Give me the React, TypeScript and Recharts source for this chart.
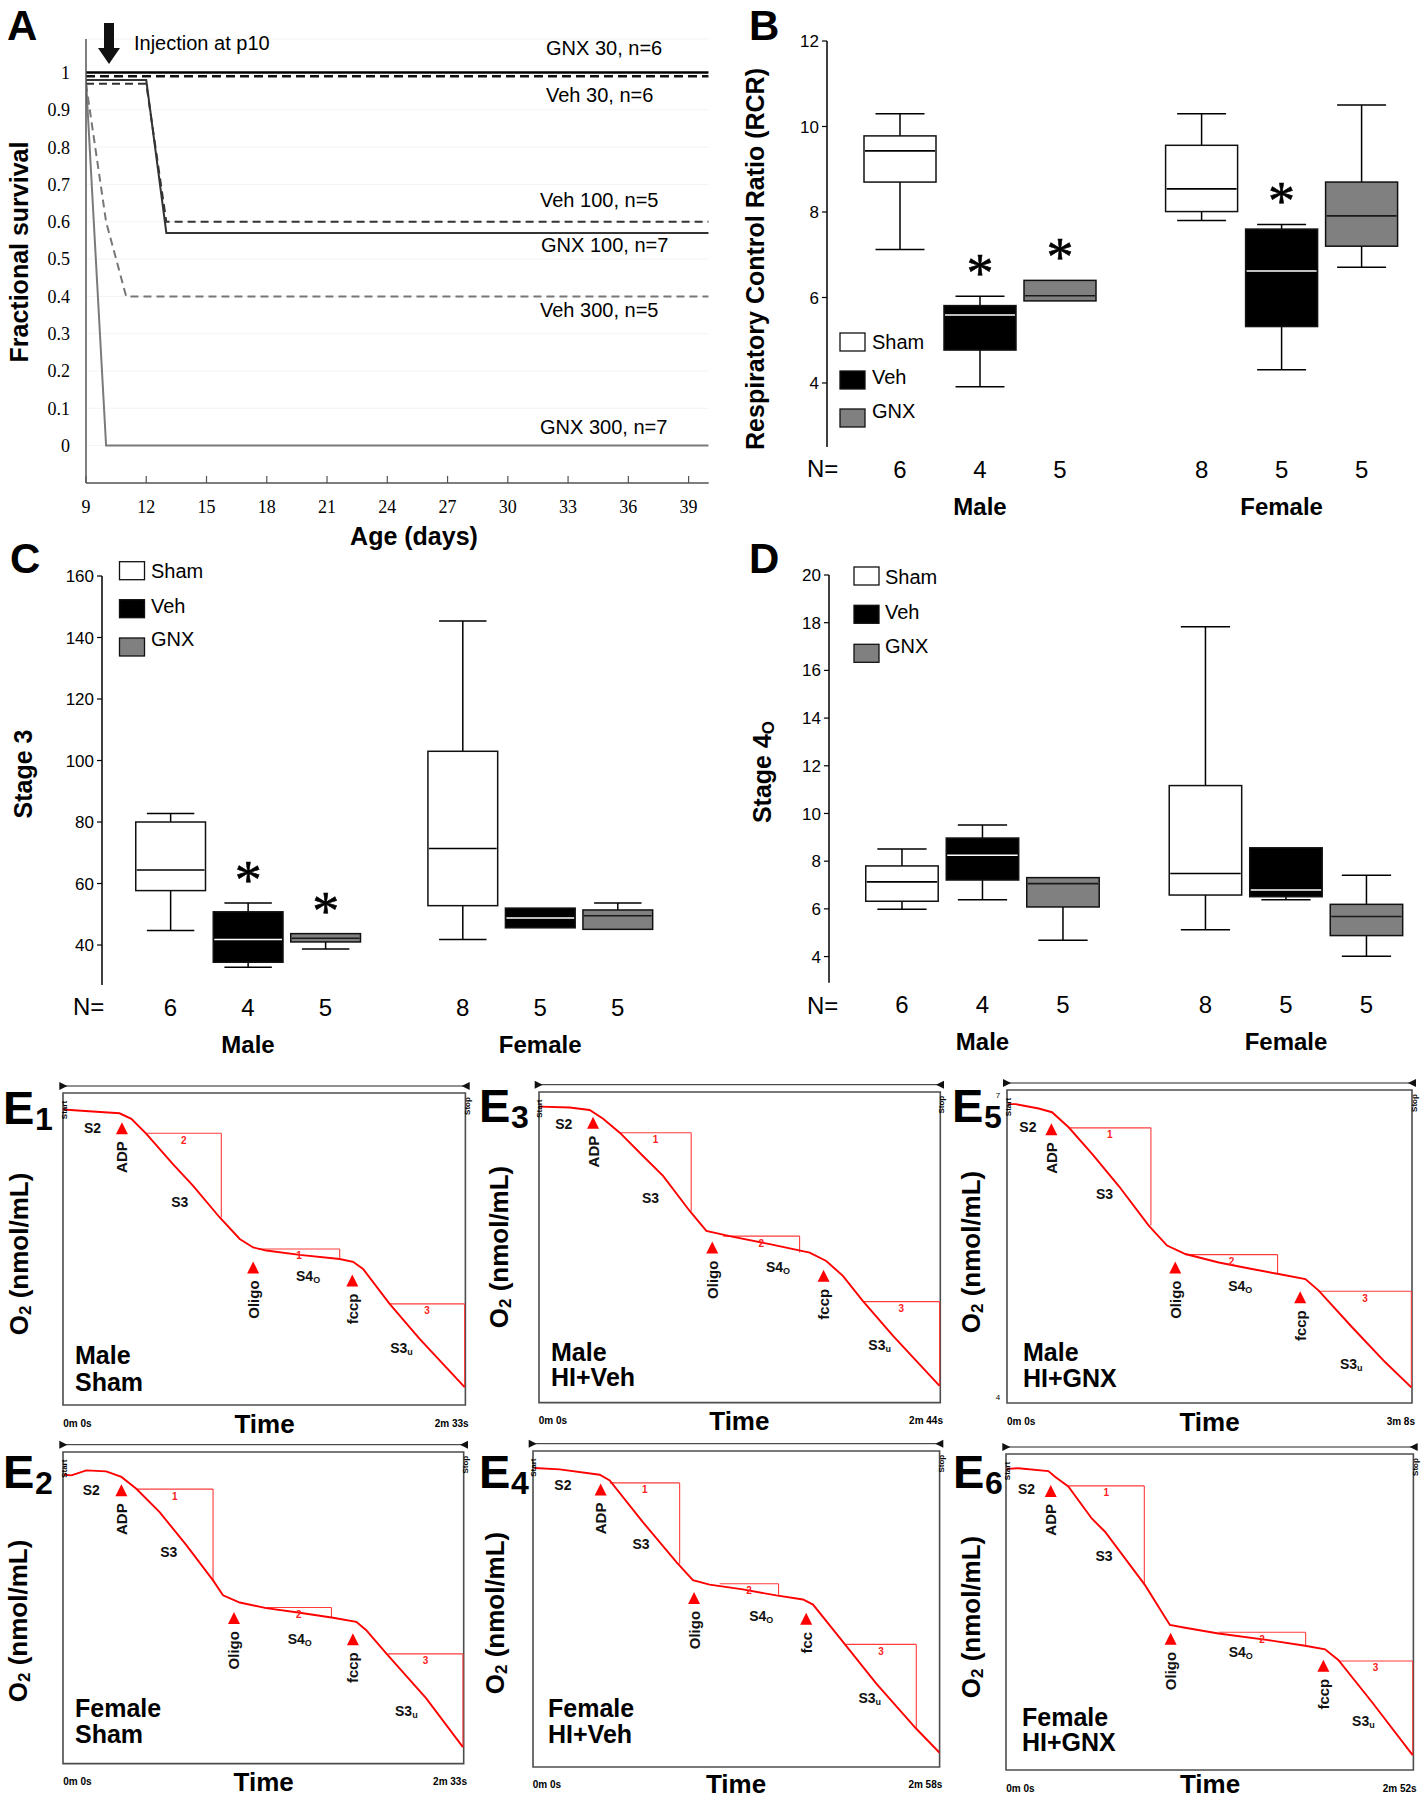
import React from "react";
import {
  LineChart,
  Line,
  XAxis,
  YAxis,
  CartesianGrid,
  BarChart,
  Bar,
  ReferenceDot,
  ReferenceLine,
  ReferenceArea,
} from "recharts";

const SANS = "'Liberation Sans', Arial, Helvetica, sans-serif";
const SERIF = "'Liberation Serif', 'Times New Roman', Times, serif";

// ---------- A: fractional survival ----------
const ageTicks = [9, 12, 15, 18, 21, 24, 27, 30, 33, 36, 39];
const survTicks = [0, 0.1, 0.2, 0.3, 0.4, 0.5, 0.6, 0.7, 0.8, 0.9, 1];

const gnx30Days = [9, 40];
const gnx30Surv = [1, 1];
const veh30Days = [9, 40];
const veh30Surv = [0.99, 0.99];
const veh100Days = [9, 12, 13, 40];
const veh100Surv = [0.97, 0.97, 0.6, 0.6];
const gnx100Days = [9, 12, 13, 40];
const gnx100Surv = [0.98, 0.98, 0.57, 0.57];
const veh300Days = [9, 10, 11, 40];
const veh300Surv = [0.97, 0.6, 0.4, 0.4];
const gnx300Days = [9, 10, 40];
const gnx300Surv = [0.98, 0, 0];

const survNames = ["GNX 30, n=6", "Veh 30, n=6", "Veh 100, n=5", "GNX 100, n=7", "Veh 300, n=5", "GNX 300, n=7"];

// ---------- B-D: box plots ----------
const groups = ["Male", "Male", "Male", "Female", "Female", "Female"];
const treatments = ["Sham", "Veh", "GNX", "Sham", "Veh", "GNX"];
const nCounts = [6, 4, 5, 8, 5, 5];

const rcrTicks = [4, 6, 8, 10, 12];
const rcrMin = [7.12, 3.91, 5.92, 7.8, 4.31, 6.71];
const rcrQ1 = [8.7, 4.77, 5.92, 8.01, 5.32, 7.2];
const rcrMed = [9.43, 5.59, 6.04, 8.54, 6.62, 7.91];
const rcrQ3 = [9.78, 5.81, 6.4, 9.56, 7.6, 8.7];
const rcrMax = [10.3, 6.03, 6.4, 10.3, 7.71, 10.5];
const rcrSig = [false, true, true, false, true, false];

const st3Ticks = [40, 60, 80, 100, 120, 140, 160];
const st3Min = [44.7, 32.8, 38.7, 41.8, 45.6, 45.1];
const st3Q1 = [57.7, 34.4, 41.0, 52.8, 45.6, 45.1];
const st3Med = [64.4, 41.8, 42.2, 71.4, 48.8, 49.5];
const st3Q3 = [80.0, 50.8, 43.7, 103.0, 52.0, 51.4];
const st3Max = [82.8, 53.7, 43.7, 145.4, 52.0, 53.7];
const st3Sig = [false, true, true, false, false, false];

const st4Ticks = [4, 6, 8, 10, 12, 14, 16, 18, 20];
const st4Min = [5.98, 6.38, 4.68, 5.12, 6.38, 4.01];
const st4Q1 = [6.32, 7.21, 6.08, 6.58, 6.51, 4.88];
const st4Med = [7.13, 8.25, 7.06, 7.48, 6.79, 5.68];
const st4Q3 = [7.8, 8.97, 7.31, 11.17, 8.56, 6.19];
const st4Max = [8.51, 9.52, 7.31, 17.83, 8.56, 7.41];
const st4Sig = [false, false, false, false, false, false];

// ---------- E: oxygen traces (time s, O2 as % of trace window) ----------
const e1Time = [0, 12.7, 21.5, 26.0, 31.7, 41.8, 49.4, 59.6, 67.2, 72.3, 77.3, 90.0, 105.2, 110.3, 114.1, 124.2, 135.6, 152.7];
const e1O2 = [94.7, 94.0, 93.5, 91.7, 86.9, 77.2, 70.3, 60.1, 53.2, 50.5, 49.5, 48.1, 46.8, 45.9, 43.6, 32.4, 21.2, 5.7];
const e1Boxes: any[] = [[31.7, 60.2, 87.1, 60.1, "2"], [74.2, 105.2, 50.0, 46.8, "1"], [124.2, 152.7, 32.4, 5.7, "3"]];
const e1Marks: any[] = [[22.4, 88.7, "ADP"], [72.3, 44.1, "Oligo"], [110.0, 39.9, "fccp"]];
const e1Stages: any[] = [[11.2, 88.7, "S2"], [44.4, 65.2, "S3"], [93.2, 41.5, "S4_O"], [128.7, 18.2, "S3_u"]];
const e1Group = ["Male", "Sham"];

const e3Time = [0.3, 12.5, 20.7, 26.2, 33.0, 42.5, 50.7, 61.6, 68.4, 77.9, 94.3, 110.6, 117.4, 124.2, 132.4, 144.7, 163.7];
const e3O2 = [95.3, 95.0, 94.2, 91.4, 86.9, 79.4, 73.0, 61.7, 55.3, 53.6, 51.0, 48.3, 45.6, 40.8, 32.7, 21.5, 5.4];
const e3Boxes: any[] = [[33.0, 62.2, 86.9, 61.7, "1"], [75.2, 106.5, 53.6, 48.3, "2"], [132.4, 163.7, 32.5, 5.4, "3"]];
const e3Marks: any[] = [[22.1, 90.1, "ADP"], [70.8, 49.9, "Oligo"], [116.3, 40.8, "fccp"]];
const e3Stages: any[] = [[10.1, 89.8, "S2"], [45.6, 66.0, "S3"], [97.7, 43.5, "S4_O"], [139.2, 18.5, "S3_u"]];
const e3Group = ["Male", "HI+Veh"];

const e5Time = [0.5, 3.9, 14.7, 20.9, 28.6, 39.5, 51.8, 65.8, 74.3, 82.8, 98.3, 113.7, 126.1, 138.5, 144.7, 160.2, 175.6, 187.7];
const e5O2 = [95.5, 95.5, 94.1, 92.9, 88.1, 79.6, 69.4, 56.7, 50.3, 47.6, 44.9, 42.8, 41.2, 39.6, 35.9, 24.2, 13.0, 5.0];
const e5Boxes: any[] = [[28.6, 66.8, 87.9, 56.7, "1"], [82.8, 125.6, 47.4, 41.5, "2"], [144.7, 187.7, 35.7, 5.0, "3"]];
const e5Marks: any[] = [[20.6, 87.5, "ADP"], [78.1, 43.3, "Oligo"], [136.1, 33.8, "fccp"]];
const e5Stages: any[] = [[9.7, 88.1, "S2"], [45.3, 66.8, "S3"], [108.3, 37.3, "S4_O"], [159.8, 12.5, "S3_u"]];
const e5Group = ["Male", "HI+GNX"];

const e2Time = [0.3, 3.2, 8.9, 16.5, 22.3, 28.0, 36.9, 47.1, 57.3, 61.1, 67.5, 77.6, 90.4, 103.1, 112.0, 115.8, 123.5, 138.7, 152.7];
const e2O2 = [92.7, 92.5, 94.1, 93.8, 92.0, 88.2, 80.7, 70.1, 58.8, 54.0, 51.7, 49.9, 48.4, 46.8, 45.5, 42.8, 35.3, 20.9, 5.3];
const e2Boxes: any[] = [[28.0, 57.3, 88.1, 58.8, "1"], [77.6, 102.5, 50.1, 46.8, "2"], [124.1, 152.7, 35.2, 5.3, "3"]];
const e2Marks: any[] = [[22.3, 87.7, "ADP"], [65.3, 46.7, "Oligo"], [110.7, 39.9, "fccp"]];
const e2Stages: any[] = [[10.8, 87.9, "S2"], [40.4, 67.9, "S3"], [90.4, 40.1, "S4_O"], [131.1, 16.8, "S3_u"]];
const e2Group = ["Female", "Sham"];

const e4Time = [0.7, 11.7, 29.2, 33.6, 48.1, 62.7, 70.0, 77.3, 91.9, 106.5, 118.2, 122.6, 135.7, 150.3, 167.8, 178.0];
const e4O2 = [94.6, 94.2, 92.5, 90.7, 77.5, 64.9, 59.1, 57.7, 56.2, 54.3, 53.0, 51.4, 39.6, 26.4, 12.1, 4.5];
const e4Boxes: any[] = [[33.6, 64.2, 89.9, 64.3, "1"], [81.7, 107.5, 58.0, 54.5, "2"], [136.9, 167.8, 38.8, 12.1, "3"]];
const e4Marks: any[] = [[29.6, 87.8, "ADP"], [70.5, 53.5, "Oligo"], [119.6, 46.9, "fcc"]];
const e4Stages: any[] = [[13.1, 89.1, "S2"], [47.3, 70.5, "S3"], [99.9, 47.7, "S4_O"], [147.4, 21.8, "S3_u"]];
const e4Group = ["Female", "HI+Veh"];

const e6Time = [0.3, 5.2, 17.9, 20.7, 26.3, 36.2, 41.8, 58.7, 65.7, 69.2, 75.6, 89.7, 110.8, 126.3, 134.7, 140.3, 154.4, 171.7];
const e6O2 = [95.3, 95.5, 94.6, 92.8, 89.7, 79.6, 75.4, 58.5, 50.1, 45.9, 45.0, 43.2, 41.1, 39.3, 38.2, 34.8, 21.6, 4.7];
const e6Boxes: any[] = [[26.3, 58.4, 89.9, 58.5, "1"], [89.7, 126.5, 43.6, 39.3, "2"], [140.3, 171.7, 34.5, 4.7, "3"]];
const e6Marks: any[] = [[18.9, 88.3, "ADP"], [69.5, 41.5, "Oligo"], [134.0, 33.0, "fccp"]];
const e6Stages: any[] = [[8.7, 88.9, "S2"], [41.4, 67.7, "S3"], [99.1, 37.4, "S4_O"], [150.9, 15.5, "S3_u"]];
const e6Group = ["Female", "HI+GNX"];

// ---------- layout helpers ----------
// wrapper so that the plot area lands on L..R / T..B of the page
function place(L: number, T: number, R: number, B: number, yW = 0, xH = 0, pad = 6) {
  const left = L - yW - pad;
  const top = T - pad;
  return {
    style: { position: "absolute" as const, left, top },
    width: R + pad - left,
    height: B + xH + pad - top,
    margin: { top: pad, right: pad, bottom: pad, left: pad },
  };
}

const toPts = (d: number[], s: number[]) => d.map((day, i) => ({ day, s: s[i] }));

const survLines = [
  { key: "gnx30", data: toPts(gnx30Days, gnx30Surv), stroke: "#000", w: 2.6, dash: undefined },
  { key: "veh30", data: toPts(veh30Days, veh30Surv), stroke: "#111", w: 2.4, dash: "9 5" },
  { key: "veh300", data: toPts(veh300Days, veh300Surv), stroke: "#777", w: 2, dash: "8 5" },
  { key: "gnx300", data: toPts(gnx300Days, gnx300Surv), stroke: "#7a7a7a", w: 2, dash: undefined },
  { key: "veh100", data: toPts(veh100Days, veh100Surv), stroke: "#333", w: 2, dash: "8 5" },
  { key: "gnx100", data: toPts(gnx100Days, gnx100Surv), stroke: "#333", w: 2, dash: undefined },
];

function AgeTick(p: any) {
  return (
    <g>
      <line x1={p.x} x2={p.x} y1={p.y} y2={p.y - 7} stroke="#555" strokeWidth={1.2} />
      <text x={p.x} y={p.y + 24} textAnchor="middle" dominantBaseline="central" fontSize={18} fontFamily={SERIF} fill="#000">
        {p.payload.value}
      </text>
    </g>
  );
}

function SurvivalChart() {
  const g = place(86, 38.7, 708.7, 482.6, 70, 40, 12);
  return (
    <div style={g.style}>
      <LineChart width={g.width} height={g.height} margin={g.margin}>
        <CartesianGrid vertical={false} stroke="#f3f3f3" />
        <XAxis
          type="number"
          dataKey="day"
          domain={[9, 40]}
          allowDataOverflow
          ticks={ageTicks}
          interval={0}
          axisLine={{ stroke: "#555", strokeWidth: 1.5 }}
          tickLine={false}
          tickSize={0}
          tickMargin={0}
          height={40}
          tick={(p: any) => <AgeTick {...p} />}
        />
        <YAxis
          type="number"
          domain={[-0.1, 1.09]}
          allowDataOverflow
          ticks={survTicks}
          interval={0}
          width={70}
          axisLine={{ stroke: "#555", strokeWidth: 1.5 }}
          tickLine={false}
          tickSize={0}
          tickMargin={16}
          tick={{ fill: "#000", fontSize: 18, fontFamily: SERIF }}
          tickFormatter={(v: number) => (v === 0 || v === 1 ? String(v) : v.toFixed(1))}
        />
        {survLines.map((l) => (
          <Line
            key={l.key}
            data={l.data}
            dataKey="s"
            type="linear"
            stroke={l.stroke}
            strokeWidth={l.w}
            strokeDasharray={l.dash}
            dot={false}
            isAnimationActive={false}
          />
        ))}
      </LineChart>
    </div>
  );
}

const BOX_STYLE: any = {
  Sham: { fill: "#ffffff", med: "#000" },
  Veh: { fill: "#000000", med: "#fff" },
  GNX: { fill: "#808080", med: "#1a1a1a" },
};

const GAP = 0.77;
const boxPos = treatments.map((_, i) => i + (i >= 3 ? GAP : 0));

function BoxShape(props: any) {
  const { x, y, width, height, payload } = props;
  if (!payload || width == null) return null;
  const top = Math.min(y, y + height);
  const h = Math.abs(height);
  const { lo, q1, med, q3, hi, treatment, sig } = payload;
  const py = (v: number) => top + (h * (hi - v)) / (hi - lo || 1);
  const cx = x + width / 2;
  const cap = width * 0.34;
  const st = BOX_STYLE[treatment];
  return (
    <g>
      <line x1={cx} x2={cx} y1={py(hi)} y2={py(lo)} stroke="#000" strokeWidth={1.5} />
      {hi > q3 && <line x1={cx - cap} x2={cx + cap} y1={py(hi)} y2={py(hi)} stroke="#000" strokeWidth={1.5} />}
      {lo < q1 && <line x1={cx - cap} x2={cx + cap} y1={py(lo)} y2={py(lo)} stroke="#000" strokeWidth={1.5} />}
      <rect x={x} y={py(q3)} width={width} height={py(q1) - py(q3)} fill={st.fill} stroke="#111" strokeWidth={1.5} />
      <line x1={x + 1} x2={x + width - 1} y1={py(med)} y2={py(med)} stroke={st.med} strokeWidth={1.6} />
      {sig && (
        <text x={cx} y={py(hi) - 5} textAnchor="middle" fontSize={54} fontFamily={SERIF} fill="#000" stroke="#000" strokeWidth={0.6}>
          *
        </text>
      )}
    </g>
  );
}

function NTick(p: any) {
  const i = boxPos.indexOf(p.payload.value);
  return (
    <g fontFamily={SANS} fill="#000">
      <text x={p.x} y={p.y + 22} textAnchor="middle" dominantBaseline="central" fontSize={24}>
        {nCounts[i]}
      </text>
      {(i === 1 || i === 4) && (
        <text x={p.x} y={p.y + 59} textAnchor="middle" dominantBaseline="central" fontSize={24} fontWeight="bold">
          {groups[i]}
        </text>
      )}
    </g>
  );
}

function BoxChart(props: any) {
  const { L, T, R, B, c0, sp, yDomain, yTicks, mins, q1s, meds, q3s, maxs, sig } = props;
  const g = place(L, T, R, B, 60, 80, 16);
  const rows = treatments.map((t, i) => ({
    pos: boxPos[i],
    range: [mins[i], maxs[i]],
    lo: mins[i],
    q1: q1s[i],
    med: meds[i],
    q3: q3s[i],
    hi: maxs[i],
    treatment: t,
    sig: sig[i],
  }));
  const xDomain = [-(c0 - L) / sp, (R - c0) / sp];
  return (
    <div style={g.style}>
      <BarChart width={g.width} height={g.height} margin={g.margin} data={rows}>
        <XAxis
          type="number"
          dataKey="pos"
          domain={xDomain}
          allowDataOverflow
          ticks={boxPos}
          interval={0}
          axisLine={false}
          tickLine={false}
          tickSize={0}
          tickMargin={0}
          height={80}
          tick={(p: any) => <NTick {...p} />}
        />
        <YAxis
          type="number"
          domain={yDomain}
          allowDataOverflow
          ticks={yTicks}
          interval={0}
          width={60}
          axisLine={{ stroke: "#000", strokeWidth: 1.5 }}
          tickLine={{ stroke: "#000", strokeWidth: 1.2 }}
          tickSize={5}
          tickMargin={3}
          tick={{ fill: "#000", fontSize: 17, fontFamily: SANS }}
        />
        <Bar dataKey="range" barSize={sp} isAnimationActive={false} shape={(p: any) => <BoxShape {...p} />} />
      </BarChart>
    </div>
  );
}

function StageLabel({ cx, cy, label }: any) {
  const [main, sub] = String(label).split("_");
  return (
    <text x={cx} y={cy} textAnchor="middle" dominantBaseline="central" fontSize={14} fontWeight="bold" fontFamily={SANS} fill="#111">
      {main}
      {sub && (
        <tspan fontSize={9} dy={4}>
          {sub}
        </tspan>
      )}
    </text>
  );
}

function EPanel(props: any) {
  const { lay, dur, time, o2, boxes, marks, stages } = props;
  const { L, T, R, B } = lay;
  const g = place(L, T, R, B);
  const data = time.map((t: number, i: number) => ({ t, v: o2[i] }));
  return (
    <div style={g.style}>
      <LineChart width={g.width} height={g.height} margin={g.margin} data={data}>
        <XAxis type="number" dataKey="t" domain={[0, dur]} hide allowDataOverflow />
        <YAxis type="number" dataKey="v" domain={[0, 100]} hide allowDataOverflow />
        <ReferenceArea x1={0} x2={dur} y1={0} y2={100} fill="none" fillOpacity={0} stroke="#4d4d4d" strokeWidth={1.6} ifOverflow="visible" />
        {boxes.flatMap((b: any, i: number) => [
          <ReferenceLine key={`h${i}`} segment={[{ x: b[0], y: b[2] }, { x: b[1], y: b[2] }]} stroke="#ff3b3b" strokeWidth={1.1} ifOverflow="visible" />,
          <ReferenceLine key={`v${i}`} segment={[{ x: b[1], y: b[2] }, { x: b[1], y: b[3] }]} stroke="#ff3b3b" strokeWidth={1.1} ifOverflow="visible" />,
        ])}
        <Line type="linear" dataKey="v" stroke="#ff0000" strokeWidth={1.9} dot={false} isAnimationActive={false} />
        {boxes.map((b: any, i: number) => (
          <ReferenceDot
            key={`n${i}`}
            x={(b[0] + b[1]) / 2}
            y={b[2]}
            r={0}
            ifOverflow="visible"
            shape={(p: any) => (
              <text x={p.cx} y={p.cy + 7} textAnchor="middle" dominantBaseline="central" fontSize={10} fontWeight="bold" fill="#ff2020" fontFamily={SANS}>
                {b[4]}
              </text>
            )}
          />
        ))}
        {marks.map((m: any, i: number) => (
          <ReferenceDot
            key={`m${i}`}
            x={m[0]}
            y={m[1]}
            r={0}
            ifOverflow="visible"
            shape={(p: any) => (
              <g>
                <path d={`M${p.cx},${p.cy - 6} L${p.cx + 6},${p.cy + 6} L${p.cx - 6},${p.cy + 6} Z`} fill="#ff0000" />
                <text
                  transform={`rotate(-90 ${p.cx} ${p.cy + 13})`}
                  x={p.cx}
                  y={p.cy + 13}
                  textAnchor="end"
                  dominantBaseline="central"
                  fontSize={15}
                  fontWeight="bold"
                  fontFamily={SANS}
                  fill="#111"
                >
                  {m[2]}
                </text>
              </g>
            )}
          />
        ))}
        {stages.map((s: any, i: number) => (
          <ReferenceDot key={`s${i}`} x={s[0]} y={s[1]} r={0} ifOverflow="visible" shape={(p: any) => <StageLabel cx={p.cx} cy={p.cy} label={s[2]} />} />
        ))}
      </LineChart>
    </div>
  );
}

const E_PANELS = [
  { sub: "1", lay: { L: 63.3, R: 465.7, T: 1093, B: 1405, eX: 3, eBase: 1124, gX: 75, gY: [1355, 1381.7], o2X: 19, o2Y: 1254 }, dur: 153, end: "2m 33s", time: e1Time, o2: e1O2, boxes: e1Boxes, marks: e1Marks, stages: e1Stages, group: e1Group },
  { sub: "3", lay: { L: 538.7, R: 940, T: 1091.7, B: 1402.3, eX: 479, eBase: 1122, gX: 551, gY: [1351.7, 1377.3], o2X: 499, o2Y: 1247 }, dur: 164, end: "2m 44s", time: e3Time, o2: e3O2, boxes: e3Boxes, marks: e3Marks, stages: e3Stages, group: e3Group },
  { sub: "5", lay: { L: 1007, R: 1412, T: 1090, B: 1403, eX: 952, eBase: 1122, gX: 1023, gY: [1352.3, 1378], o2X: 971, o2Y: 1252 }, dur: 188, end: "3m 8s", time: e5Time, o2: e5O2, boxes: e5Boxes, marks: e5Marks, stages: e5Stages, group: e5Group },
  { sub: "2", lay: { L: 63.3, R: 464, T: 1451.7, B: 1763.3, eX: 3, eBase: 1488, gX: 75, gY: [1708.3, 1734.3], o2X: 17.5, o2Y: 1621 }, dur: 153, end: "2m 33s", time: e2Time, o2: e2O2, boxes: e2Boxes, marks: e2Marks, stages: e2Stages, group: e2Group },
  { sub: "4", lay: { L: 532.7, R: 939.3, T: 1450.7, B: 1766.7, eX: 479, eBase: 1488, gX: 548, gY: [1708.3, 1734.3], o2X: 495, o2Y: 1613 }, dur: 178, end: "2m 58s", time: e4Time, o2: e4O2, boxes: e4Boxes, marks: e4Marks, stages: e4Stages, group: e4Group },
  { sub: "6", lay: { L: 1006.3, R: 1413.7, T: 1454, B: 1770, eX: 953, eBase: 1488, gX: 1022, gY: [1716.7, 1741.7], o2X: 971, o2Y: 1617 }, dur: 172, end: "2m 52s", time: e6Time, o2: e6O2, boxes: e6Boxes, marks: e6Marks, stages: e6Stages, group: e6Group },
];

function EOverlay({ p }: any) {
  const { L, R, T, B, eX, eBase, gX, gY, o2X, o2Y } = p.lay;
  const timeY = Math.min(B + 19, 1784);
  return (
    <g fontFamily={SANS} fill="#000">
      <text x={eX} y={eBase} fontSize={47} fontWeight="bold">E</text>
      <text x={eX + 32} y={eBase + 6} fontSize={32} fontWeight="bold">{p.sub}</text>
      <line x1={L} x2={R} y1={T - 7} y2={T - 7} stroke="#222" strokeWidth={1} />
      <path d={`M${L - 4},${T - 11} L${L + 4},${T - 7} L${L - 4},${T - 3} Z`} fill="#111" />
      <path d={`M${R + 4},${T - 11} L${R - 4},${T - 7} L${R + 4},${T - 3} Z`} fill="#111" />
      <text transform={`rotate(-90 ${L + 1} ${T + 17})`} x={L + 1} y={T + 17} textAnchor="middle" dominantBaseline="central" fontSize={8} fontWeight="bold">Start</text>
      <text transform={`rotate(-90 ${R + 2} ${T + 13})`} x={R + 2} y={T + 13} textAnchor="middle" dominantBaseline="central" fontSize={8} fontWeight="bold">Stop</text>
      <text transform={`rotate(-90 ${o2X} ${o2Y})`} x={o2X} y={o2Y} textAnchor="middle" dominantBaseline="central" fontSize={26} fontWeight="bold">
        O<tspan fontSize={17} dy={6}>2</tspan>
        <tspan dy={-6}> (nmol/mL)</tspan>
      </text>
      <text x={(L + R) / 2} y={timeY} textAnchor="middle" dominantBaseline="central" fontSize={26} fontWeight="bold">Time</text>
      <text x={L} y={B + 18} dominantBaseline="central" fontSize={10} fontWeight="bold">0m 0s</text>
      <text x={R + 3} y={B + 18} textAnchor="end" dominantBaseline="central" fontSize={10} fontWeight="bold">{p.end}</text>
      {p.group.map((s: string, i: number) => (
        <text key={s} x={gX} y={gY[i]} dominantBaseline="central" fontSize={25} fontWeight="bold">{s}</text>
      ))}
    </g>
  );
}

function LegendBlock({ x, tops, textX, textYs }: any) {
  return (
    <g fontFamily={SANS}>
      {treatments.slice(0, 3).map((t, i) => (
        <g key={t}>
          <rect x={x} y={tops[i]} width={25} height={18} fill={BOX_STYLE[t].fill} stroke="#111" strokeWidth={1.3} />
          <text x={textX} y={textYs[i]} fontSize={20} dominantBaseline="central" fill="#000">{t}</text>
        </g>
      ))}
    </g>
  );
}

function Overlay() {
  const survLabelY = [47.5, 95, 199.6, 245.4, 310, 427];
  const survLabelX = [546, 546, 540, 541, 540, 540];
  return (
    <svg width={1423} height={1800} style={{ position: "absolute", left: 0, top: 0, pointerEvents: "none" }}>
      <g fontFamily={SANS} fill="#000" fontWeight="bold" fontSize={42}>
        <text x={7} y={40}>A</text>
        <text x={749} y={40}>B</text>
        <text x={10} y={573}>C</text>
        <text x={749} y={573}>D</text>
      </g>

      {/* A */}
      <path d="M104,23 L114,23 L114,48 L120,48 L109,64 L98,48 L104,48 Z" fill="#111" />
      <text x={134} y={42.5} fontFamily={SANS} fontSize={20} dominantBaseline="central">Injection at p10</text>
      {survNames.map((s, i) => (
        <text key={s} x={survLabelX[i]} y={survLabelY[i]} fontFamily={SANS} fontSize={20} dominantBaseline="central">{s}</text>
      ))}
      <text transform="rotate(-90 19 252)" x={19} y={252} textAnchor="middle" dominantBaseline="central" fontFamily={SANS} fontSize={25} fontWeight="bold">Fractional survival</text>
      <text x={414} y={536} textAnchor="middle" dominantBaseline="central" fontFamily={SANS} fontSize={25} fontWeight="bold">Age (days)</text>

      {/* B */}
      <text transform="rotate(-90 755 259)" x={755} y={259} textAnchor="middle" dominantBaseline="central" fontFamily={SANS} fontSize={25} fontWeight="bold">Respiratory Control Ratio (RCR)</text>
      <text x={807} y={468} dominantBaseline="central" fontFamily={SANS} fontSize={24}>N=</text>
      <LegendBlock x={840} tops={[333, 371, 409]} textX={872} textYs={[342, 377, 411]} />

      {/* C */}
      <text transform="rotate(-90 22.7 774)" x={22.7} y={774} textAnchor="middle" dominantBaseline="central" fontFamily={SANS} fontSize={25} fontWeight="bold">Stage 3</text>
      <text x={73} y={1006} dominantBaseline="central" fontFamily={SANS} fontSize={24}>N=</text>
      <LegendBlock x={119.5} tops={[561.7, 599.7, 638]} textX={151} textYs={[571, 605.7, 639]} />

      {/* D */}
      <text transform="rotate(-90 762 772)" x={762} y={772} textAnchor="middle" dominantBaseline="central" fontFamily={SANS} fontSize={25} fontWeight="bold">
        Stage 4<tspan fontSize={17} dy={6}>O</tspan>
      </text>
      <text x={807} y={1005} dominantBaseline="central" fontFamily={SANS} fontSize={24}>N=</text>
      <LegendBlock x={854} tops={[567, 605.3, 644.3]} textX={885} textYs={[576.7, 611.7, 645.7]} />

      {/* E */}
      {E_PANELS.map((p) => (
        <EOverlay key={p.sub} p={p} />
      ))}
      <text x={998} y={1095} fontFamily={SANS} fontSize={8} textAnchor="middle" dominantBaseline="central">7</text>
      <text x={998} y={1397} fontFamily={SANS} fontSize={8} textAnchor="middle" dominantBaseline="central">4</text>
    </svg>
  );
}

export default function App() {
  return (
    <div style={{ position: "relative", width: 1423, height: 1800, background: "#fff", fontFamily: SANS }}>
      <style>{"body{margin:0;background:#fff}"}</style>
      <SurvivalChart />
      <BoxChart L={827} T={40.7} R={1420} B={446.8} c0={900} sp={80} yDomain={[2.5, 12]} yTicks={rcrTicks}
        mins={rcrMin} q1s={rcrQ1} meds={rcrMed} q3s={rcrQ3} maxs={rcrMax} sig={rcrSig} />
      <BoxChart L={101.5} T={575.7} R={700} B={984.7} c0={170} sp={77.5} yDomain={[27, 160]} yTicks={st3Ticks}
        mins={st3Min} q1s={st3Q1} meds={st3Med} q3s={st3Q3} maxs={st3Max} sig={st3Sig} />
      <BoxChart L={829} T={574.7} R={1420} B={982.5} c0={902} sp={80.5} yDomain={[2.9, 20]} yTicks={st4Ticks}
        mins={st4Min} q1s={st4Q1} meds={st4Med} q3s={st4Q3} maxs={st4Max} sig={st4Sig} />
      {E_PANELS.map((p) => (
        <EPanel key={p.sub} lay={p.lay} dur={p.dur} time={p.time} o2={p.o2} boxes={p.boxes} marks={p.marks} stages={p.stages} />
      ))}
      <Overlay />
    </div>
  );
}
